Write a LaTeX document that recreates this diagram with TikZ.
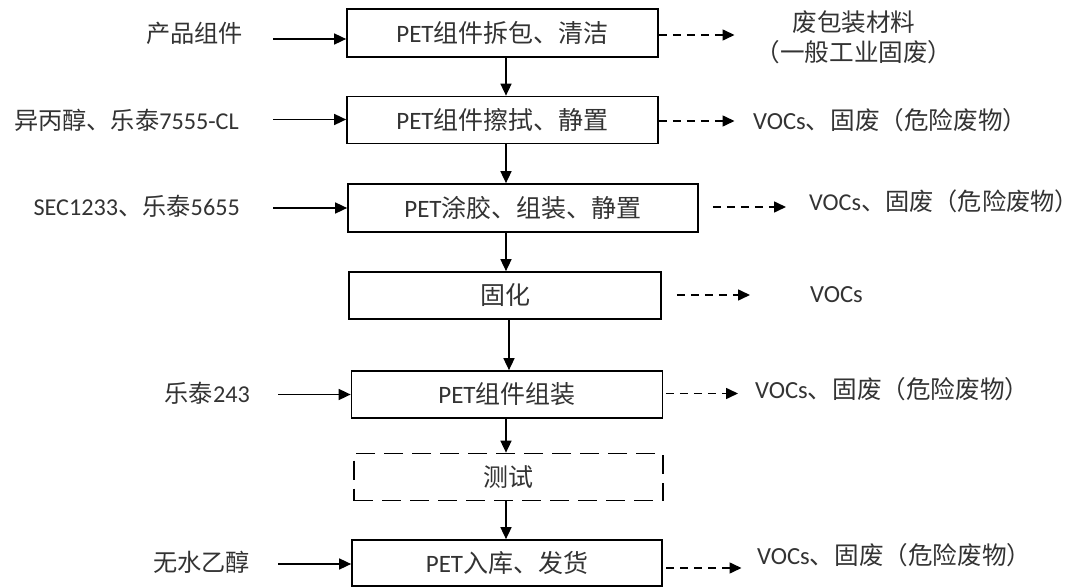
\documentclass[tikz,border=0pt]{standalone}
\usepackage{fontspec}
\setmainfont{Noto Sans CJK SC}
\newfontfamily\enf{Carlito}
\newcommand{\en}[1]{{\enf #1}}
\usetikzlibrary{arrows.meta,calc}
\definecolor{txt}{HTML}{333333}
\begin{document}
\begin{tikzpicture}[x=1pt,y=-1pt,
  box/.style={draw, line width=1.7pt, inner sep=0pt, text=txt,
    font=\fontsize{25}{29}\selectfont},
  tbox/.style={box, solid, dash pattern=on 19pt off 9pt},
  lab/.style={inner sep=0pt, text=txt, font=\fontsize{24.2}{29}\selectfont},
  olab/.style={inner sep=0pt, text=txt, font=\fontsize{24.6}{30.5}\selectfont},
  arr/.style={-{Triangle[length=12pt,width=11pt]}, line width=1.6pt},
  darr/.style={arr, dash pattern=on 8pt off 6pt}]
\useasboundingbox (0,0) rectangle (1080,588);
\fill[white] (0,0) rectangle (1080,588);

% process boxes
\node[box, minimum width=311, minimum height=48] (b1) at (502.5,33) {\en{PET}组件拆包、清洁};
\node[box, minimum width=311, minimum height=47] (b2) at (502.5,120) {\en{PET}组件擦拭、静置};
\node[box, minimum width=350, minimum height=48] (b3) at (523,208) {\en{PET}涂胶、组装、静置};
\node[box, minimum width=312, minimum height=47] (b4) at (505,295.5) {固化};
\node[box, minimum width=311, minimum height=47] (b5) at (507,394.5) {\en{PET}组件组装};
\node[tbox, minimum width=309, minimum height=47] (b6) at (508.5,477) {测试};
\node[box, minimum width=310, minimum height=46] (b7) at (507,563) {\en{PET}入库、发货};

% flow arrows
\draw[arr] (506,0 |- b1.south) -- (506,0 |- b2.north);
\draw[arr] (506,0 |- b2.south) -- (506,0 |- b3.north);
\draw[arr] (506,0 |- b3.south) -- (506,0 |- b4.north);
\draw[arr] (509,0 |- b4.south) -- (509,0 |- b5.north);
\draw[arr] (506,0 |- b5.south) -- (506,0 |- b6.north);
\draw[arr] (506,0 |- b6.south) -- (506,0 |- b7.north);

% inputs
\node[lab, anchor=east] (i1) at (243,33) {产品组件};
\node[lab, anchor=east] (i2) at (239,120) {异丙醇、乐泰\en{7555-CL}};
\node[lab, anchor=east] (i3) at (240,206) {\en{SEC1233}、乐泰\en{5655}};
\node[lab, anchor=east] (i5) at (250,393) {乐泰\en{243}};
\node[lab, anchor=east] (i7) at (250,562) {无水乙醇};

\coordinate (s1) at (273,39);
\coordinate (s2) at (273,119.5);
\coordinate (s3) at (273,208);
\coordinate (s5) at (278,394.5);
\coordinate (s7) at (278,564);

\draw[arr] (s1) -- (b1.west |- s1);
\draw[arr] (s2) -- (b2.west |- s2);
\draw[arr] (s3) -- (b3.west |- s3);
\draw[arr] (s5) -- (b5.west |- s5);
\draw[arr] (s7) -- (b7.west |- s7);

% outputs
\node[olab, align=center] (o1) at (854,37.5) {废包装材料\\（一般工业固废）};
\node[olab, anchor=west] (o2) at (753,120.5) {\en{VOCs}、固废（危险废物）};
\node[olab, anchor=west, font=\fontsize{24.2}{29}\selectfont] (o3) at (809,201) {\en{VOCs}、固废（危险废物）};
\node[olab, anchor=west] (o4) at (810,295) {\en{VOCs}};
\node[olab, anchor=west] (o5) at (755,389) {\en{VOCs}、固废（危险废物）};
\node[olab, anchor=west] (o7) at (757,555) {\en{VOCs}、固废（危险废物）};

\coordinate (e1) at (734.5,35);
\coordinate (e2) at (734.5,121);
\coordinate (e3) at (786,207);
\coordinate (e4) at (750,295);
\coordinate (e5) at (738,393.5);
\coordinate (e7) at (741.5,568);

\draw[darr] (b1.east |- e1) -- (e1);
\draw[darr] (b2.east |- e2) -- (e2);
\draw[darr] ($(b3.east |- e3)+(14,0)$) -- (e3);
\draw[darr] ($(b4.east |- e4)+(15,0)$) -- (e4);
\draw[darr] ($(b5.east |- e5)+(2.5,0)$) -- (e5);
\draw[darr] ($(b7.east |- e7)+(3.5,0)$) -- (e7);
\end{tikzpicture}
\end{document}
